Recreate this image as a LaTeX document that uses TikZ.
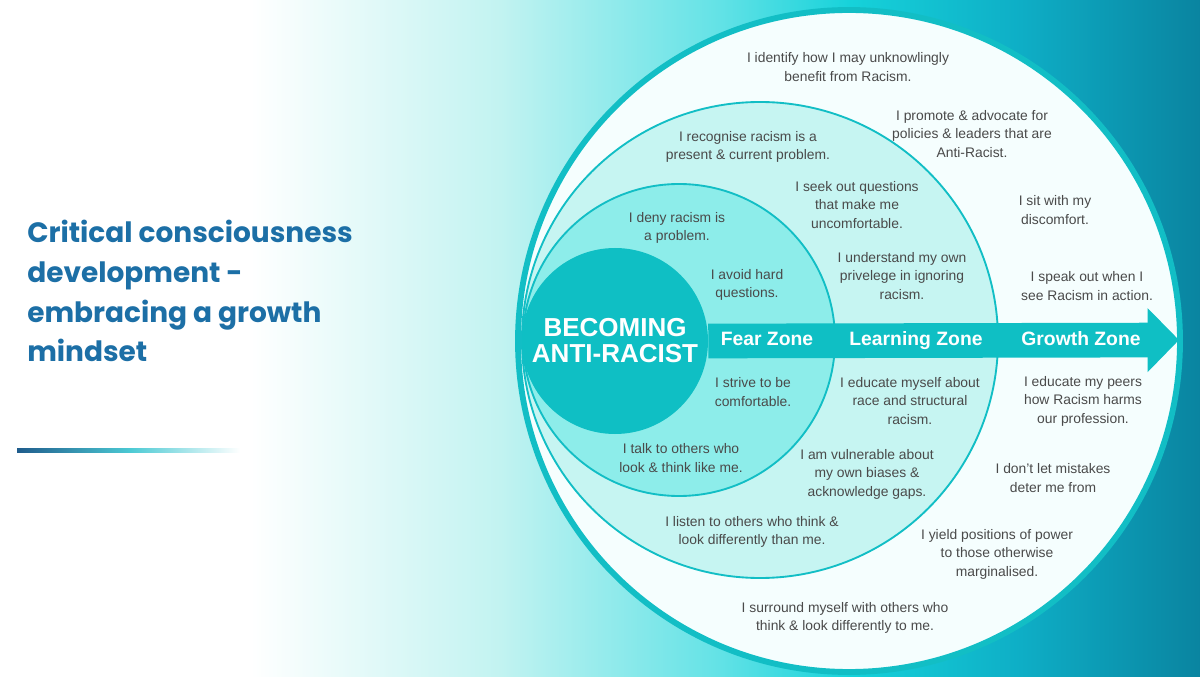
\documentclass[tikz,border=0pt]{standalone}
\usepackage{fontspec}
\setmainfont{Liberation Sans}
\newfontfamily\titlefont{Poppins}
\usetikzlibrary{arrows.meta}

\definecolor{bgA}{HTML}{C2F3F1}
\definecolor{bgB}{HTML}{62E2E6}
\definecolor{bgC}{HTML}{16D2DA}
\definecolor{bgD}{HTML}{0EAEC6}
\definecolor{bgE}{HTML}{0A84A0}
\definecolor{ringteal}{HTML}{12BEC5}
\definecolor{corefill}{HTML}{0FBFC4}
\definecolor{fearfill}{HTML}{8DEDEA}
\definecolor{learnfill}{HTML}{C6F5F2}
\definecolor{growfill}{HTML}{F5FEFE}
\definecolor{bodygray}{HTML}{4A4A4A}
\definecolor{titleblue}{HTML}{1C6FA6}
\definecolor{lineA}{HTML}{1F5C8C}
\definecolor{lineB}{HTML}{4CCAD4}

\begin{document}
\begin{tikzpicture}[x=0.75pt,y=-0.75pt,
    say/.style={text=bodygray, align=center, inner sep=1pt, font=\fontsize{10.4}{13.9}\selectfont},
    zone/.style={text=white, inner sep=1pt, anchor=base, font=\bfseries\fontsize{14.5}{16}\selectfont}]
  \useasboundingbox (0,0) rectangle (1200,677);
  % background
  \foreach \xa/\xb/\ca/\cb in {0/250/white/white, 250/500/white/bgA, 500/720/bgA/bgB,
      720/850/bgB/bgC, 850/1020/bgC/bgD, 1020/1200/bgD/bgE}
    \shade[left color=\ca, right color=\cb] (\xa,0) rectangle ({\xb+1},677);

  \node[anchor=base west, align=left, inner sep=0, text=titleblue,
    font=\titlefont\bfseries\fontsize{21}{29.8}\selectfont] (title) at (27,362)
    {Critical consciousness\\development -\\embracing a growth\\mindset};
  \shade[left color=lineA, right color=lineB] (17,448) rectangle (131,452);
  \shade[left color=lineB, right color=white] (130,448) rectangle (240,452);

  % zones
  \filldraw[fill=growfill, draw=ringteal, line width=4.4pt] (849,341) circle (331);
  \filldraw[fill=learnfill, draw=ringteal, line width=1.4pt] (760,340) circle (238);
  \filldraw[fill=fearfill, draw=ringteal, line width=1.4pt] (679,340) circle (156);

  \node[circle, fill=corefill, minimum size=139.5pt, inner sep=0, text=white, align=center,
    font=\bfseries\fontsize{19.5}{19.5}\selectfont] (core) at (615,341) {BECOMING\\ANTI-RACIST};
  \coordinate (tip) at (1179,340);
  \draw[corefill, line width=26pt, -{Triangle[length=23.5pt, width=46.5pt]}] (core.east) -- (tip);

  \node[zone] (fear) at (767,345) {Fear Zone};
  \node[zone] (learn) at (916,345) {Learning Zone};
  \node[zone] (grow) at (1081,345) {Growth Zone};

  % fear zone
  \node[say] (deny) at (677,228) {I deny racism is\\a problem.};
  \node[say] (avoid) at (747,285) {I avoid hard\\questions.};
  \node[say] (strive) at (753,392) {I strive to be\\comfortable.};
  \node[say] (talk) at (681,458) {I talk to others who\\look \& think like me.};

  % learning zone
  \node[say] (recognise) at (748,147) {I recognise racism is a\\present \& current problem.};
  \node[say] (seek) at (857,205) {I seek out questions\\that make me\\uncomfortable.};
  \node[say] (privilege) at (902,276) {I understand my own\\privelege in ignoring\\racism.};
  \node[say] (educate) at (910,401) {I educate myself about\\race and structural\\racism.};
  \node[say] (vulnerable) at (867,474) {I am vulnerable about\\my own biases \&\\acknowledge gaps.};
  \node[say] (listen) at (752,532) {I listen to others who think \&\\look differently than me.};

  % growth zone
  \node[say] (identify) at (848,67) {I identify how I may unknowlingly\\benefit from Racism.};
  \node[say] (promote) at (972,134) {I promote \& advocate for\\policies \& leaders that are\\Anti-Racist.};
  \node[say] (sit) at (1055,210) {I sit with my\\discomfort.};
  \node[say] (speak) at (1087,286) {I speak out when I\\see Racism in action.};
  \node[say] (peers) at (1083,401) {I educate my peers\\how Racism harms\\our profession.};
  \node[say] (mistakes) at (1053,478) {I don’t let mistakes\\deter me from};
  \node[say] (yield) at (997,554) {I yield positions of power\\to those otherwise\\marginalised.};
  \node[say] (surround) at (845,618) {I surround myself with others who\\think \& look differently to me.};
\end{tikzpicture}
\end{document}
